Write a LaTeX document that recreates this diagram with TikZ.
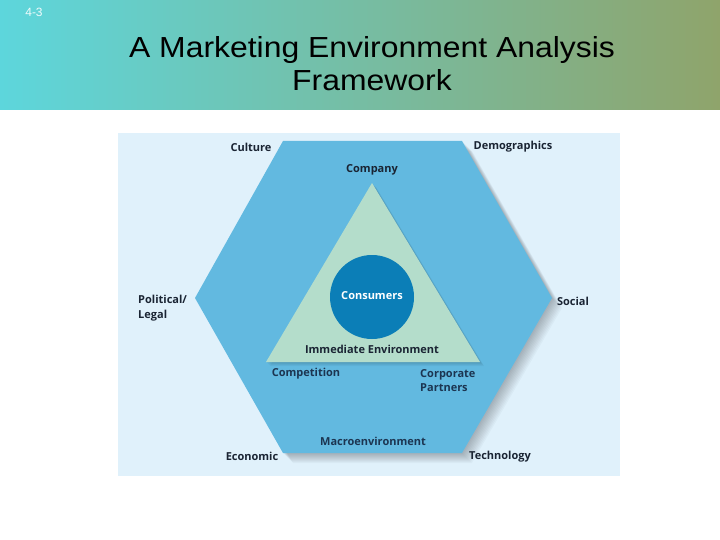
\documentclass[tikz,border=0pt]{standalone}
\usepackage{fontspec}
\setmainfont{Liberation Sans}
\newfontfamily\titlefont{Liberation Sans}[FakeStretch=1.1]
\newfontfamily\figfont{Open Sans}
\usetikzlibrary{positioning}

\definecolor{headcyan}{HTML}{5DD6DC}
\definecolor{headmid}{HTML}{7DC5B9}
\definecolor{headolive}{HTML}{8FA46B}
\definecolor{panelblue}{HTML}{E0F1FB}
\definecolor{hexblue}{HTML}{62B9E0}
\definecolor{trigreen}{HTML}{B4DDCB}
\definecolor{consblue}{HTML}{0B7EB7}
\definecolor{labelnavy}{HTML}{1A2433}
\definecolor{innernavy}{HTML}{1C3551}

\tikzset{
  lbl/.style={font=\figfont\bfseries\fontsize{11}{14}\selectfont, text=labelnavy, inner sep=0pt},
  innerlbl/.style={lbl, text=innernavy},
}

\begin{document}
\begin{tikzpicture}[x=1pt,y=-1pt]
	\useasboundingbox (0,0) rectangle (720,540);
	\fill[white] (0,0) rectangle (720,540);

	% header band
	\shade[left color=headcyan, middle color=headmid, right color=headolive] (0,0) rectangle (720,110);
	\node[text=white!90!headcyan, font=\fontsize{12}{14}\selectfont, inner sep=0pt] (slideno) at (34,12) {4-3};
	\node[align=center, font=\titlefont\fontsize{29}{33}\selectfont, inner sep=0pt] (title) at (372,64)
		{A Marketing Environment Analysis\\Framework};

	% background panel
	\fill[panelblue] (118,133) rectangle (620,476);

	% hexagon corners
	\coordinate (h1) at (283,141);
	\coordinate (h2) at (462,141);
	\coordinate (h3) at (552,298);
	\coordinate (h4) at (462,453);
	\coordinate (h5) at (283,453);
	\coordinate (h6) at (195,298);

	% soft shadow
	\foreach \s in {1,...,10}
		\fill[black, opacity=0.028] ([shift={(\s,\s)}]h1) -- ([shift={(\s,\s)}]h2) -- ([shift={(\s,\s)}]h3)
			-- ([shift={(\s,\s)}]h4) -- ([shift={(\s,\s)}]h5) -- ([shift={(\s,\s)}]h6) -- cycle;
	\fill[hexblue] (h1) -- (h2) -- (h3) -- (h4) -- (h5) -- (h6) -- cycle;

	% triangle
	\coordinate (t1) at (372,183);
	\coordinate (t2) at (480,362);
	\coordinate (t3) at (266,362);
	\foreach \s in {1,...,4}
		\fill[black, opacity=0.04] ([shift={(\s,\s)}]t1) -- ([shift={(\s,\s)}]t2) -- ([shift={(\s,\s)}]t3) -- cycle;
	\fill[trigreen] (t1) -- (t2) -- (t3) -- cycle;

	% consumers circle
	\fill[consblue] (372,297) circle (42);
	\node[lbl, text=white] (consumers) at (372,296) {Consumers};

	% outer labels
	\node[lbl] (culture) at (251,147) {Culture};
	\node[lbl] (demographics) at (513,147) {Demographics};
	\node[lbl, anchor=north west, align=left] (political) at (138,295) {Political/\\[1pt]Legal};
	\node[lbl] (social) at (573,301) {Social};
	\node[lbl] (economic) at (252,456) {Economic};
	\node[lbl] (technology) at (500,457) {Technology};

	% inner labels
	\node[lbl] (company) at (372,170) {Company};
	\node[lbl] (immediate) at (372,349) {Immediate Environment};
	\node[innerlbl] (competition) at (306,374) {Competition};
	\node[innerlbl, anchor=north west, align=left] (partners) at (420,369) {Corporate\\Partners};
	\node[innerlbl] (macro) at (373,441) {Macroenvironment};
\end{tikzpicture}
\end{document}
